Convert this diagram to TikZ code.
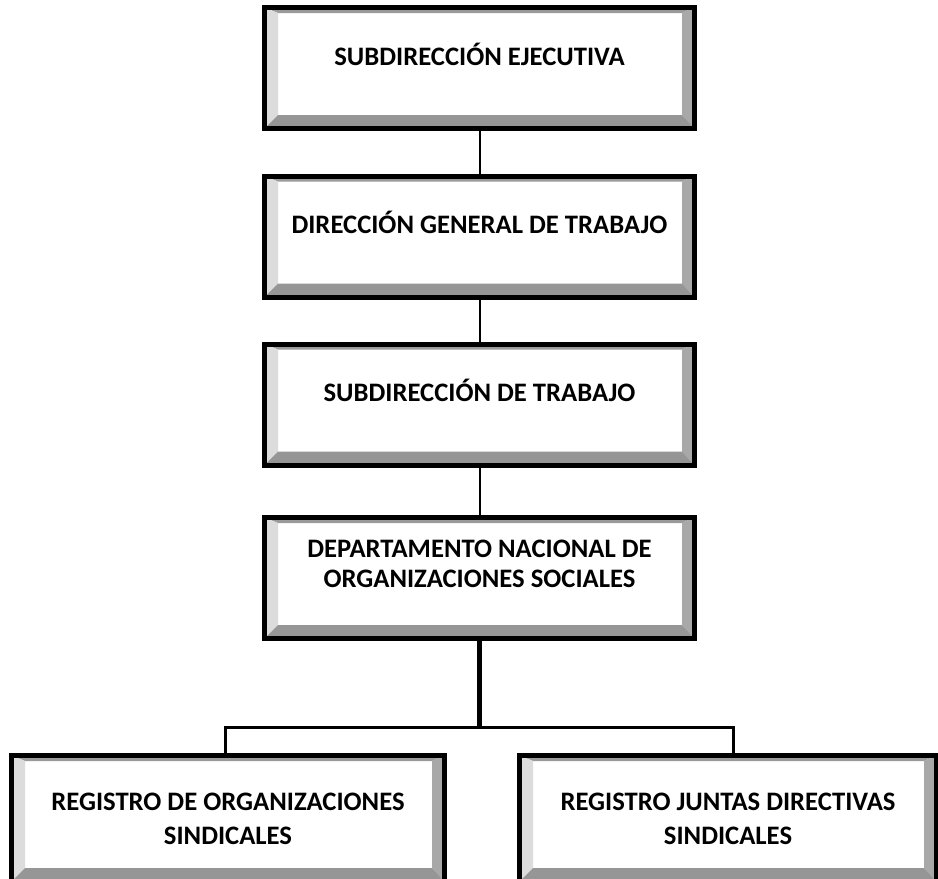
\documentclass[tikz,border=0pt]{standalone}
\usepackage{fontspec}
\setmainfont{Carlito}
\usetikzlibrary{calc}

\definecolor{bevlight}{HTML}{DCDCDC}
\definecolor{bevtop}{HTML}{9A9A9A}
\definecolor{bevright}{HTML}{A8A8A8}
\definecolor{bevbottom}{HTML}{969696}

\tikzset{
  orgbox/.style={draw=black, line width=3.75pt, fill=white, inner sep=0pt,
    minimum width=#1, minimum height=90.75pt,
    path picture={
      \coordinate (nw) at (path picture bounding box.north west);
      \coordinate (se) at (path picture bounding box.south east);
      \coordinate (inw) at ($(nw)+(10.125pt,-4.125pt)$);
      \coordinate (ise) at ($(se)+(-9.375pt,10.125pt)$);
      \fill[bevtop] (nw) -- (se |- nw) -- (ise |- inw) -- (inw) -- cycle;
      \fill[bevlight] (nw) -- (nw |- se) -- (inw |- ise) -- (inw) -- cycle;
      \fill[bevright] (se |- nw) -- (se) -- (ise) -- (ise |- inw) -- cycle;
      \fill[bevbottom] (nw |- se) -- (se) -- (ise) -- (inw |- ise) -- cycle;
    }},
  boxtext/.style={font=\bfseries\fontsize{20}{22.5}\selectfont, align=center},
  link/.style={line width=1.5pt},
  trunk/.style={line width=3.75pt},
  branch/.style={line width=2.25pt}
}

\begin{document}
\begin{tikzpicture}[x=0.75pt,y=-0.75pt]
\useasboundingbox (0,0) rectangle (938,878);
\clip (0,0) rectangle (938,878);

% chain of offices
\node[orgbox=322.5pt, label={[boxtext,yshift=10.5pt]center:SUBDIRECCIÓN EJECUTIVA}] (ejec) at (479.5,68) {};
\node[orgbox=322.5pt, label={[boxtext,yshift=10.5pt]center:DIRECCIÓN GENERAL DE TRABAJO}] (dgt) at (479.5,236.5) {};
\node[orgbox=322.5pt, label={[boxtext,yshift=10.5pt]center:SUBDIRECCIÓN DE TRABAJO}] (subt) at (479.5,404.5) {};
\node[orgbox=322.5pt, label={[boxtext,yshift=10.5pt]center:DEPARTAMENTO NACIONAL DE\\ORGANIZACIONES SOCIALES}] (depto) at (479.5,578) {};

% registers
\node[orgbox=324.75pt, minimum height=94.5pt, label={[boxtext]center:REGISTRO DE ORGANIZACIONES\\[3pt]SINDICALES}] (regorg) at (228,818.5) {};
\node[orgbox=312.75pt, minimum height=94.5pt, label={[boxtext]center:REGISTRO JUNTAS DIRECTIVAS\\[3pt]SINDICALES}] (rjd) at (728,818.5) {};

\draw[link] (ejec.south) -- (dgt.north);
\draw[link] (dgt.south) -- (subt.north);
\draw[link] (subt.south) -- (depto.north);

\coordinate (split) at (479.5,727);
\draw[trunk] (depto.south) -- (split);
\draw[branch] ([xshift=-2.25pt]regorg.north) |- (split) -| ([xshift=3.75pt]rjd.north);
\end{tikzpicture}
\end{document}
